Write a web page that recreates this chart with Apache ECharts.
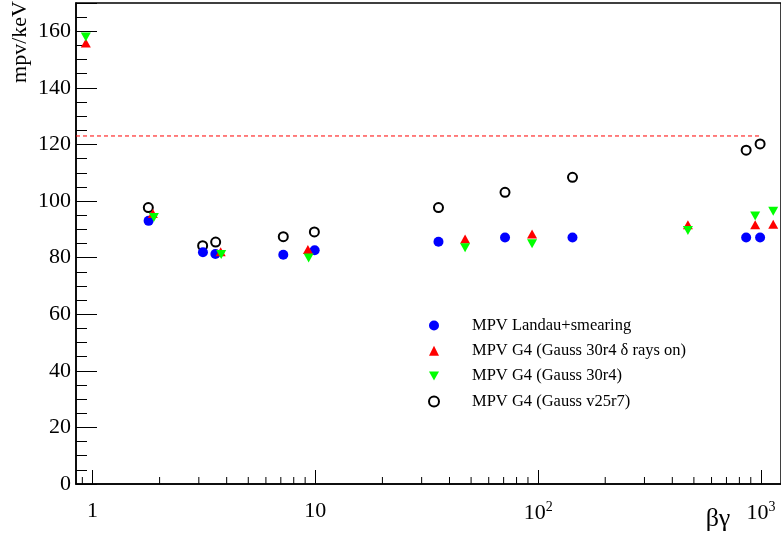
<!DOCTYPE html>
<html>
<head>
<meta charset="utf-8">
<script src="https://cdn.jsdelivr.net/npm/echarts@6/dist/echarts.min.js"></script>
<style>html,body{margin:0;padding:0;background:#fff}#c{width:781px;height:536px}</style>
</head>
<body>
<div id="c"></div>
<script>
// ---- data ----
const landauX = [1.785, 3.13, 3.56, 7.18, 9.93, 35.7, 71, 142.6, 858, 991];
const landauY = [93.0, 81.9, 81.3, 81.0, 82.6, 85.6, 87.1, 87.1, 87.1, 87.1];
const deltaX = [0.933, 1.865, 3.76, 9.26, 47, 93.9, 470, 942, 1135];
const deltaY = [155.9, 95.6, 82.1, 82.9, 86.6, 88.4, 91.6, 91.6, 91.8];
const g30X = [0.933, 1.885, 3.78, 9.33, 47, 93.9, 470, 942, 1135];
const g30Y = [158.0, 94.2, 81.1, 79.9, 83.5, 84.9, 89.6, 94.7, 96.4];
const v25X = [1.78, 3.12, 3.57, 7.18, 9.9, 35.7, 71, 142.6, 858, 991];
const v25Y = [97.7, 84.2, 85.5, 87.4, 89.1, 97.7, 103.1, 108.4, 118.0, 120.2];
const refLineY = 123;
const refLineX = [0.843, 1000];
const xMajorTicks = [1, 10, 100, 1000];
const xTickLabels = ['1', '10', '10{sup|2}', '10{sup|3}'];
const xMinorTicks = [0.9, 2, 3, 4, 5, 6, 7, 8, 9, 20, 30, 40, 50, 60, 70, 80, 90,
  200, 300, 400, 500, 600, 700, 800, 900];
const seriesNames = ['MPV Landau+smearing', 'MPV G4 (Gauss 30r4 \u03b4 rays on)', 'MPV G4 (Gauss 30r4)', 'MPV G4 (Gauss v25r7)'];

const zip = (xs, ys) => xs.map((x, i) => [x, ys[i]]);
const FONT = 'Liberation Serif';
const downTri = 'path://M0,0L10,0L5,9Z';

const chart = echarts.init(document.getElementById('c'), null, {renderer: 'canvas'});
chart.setOption({
  animation: false,
  backgroundColor: '#fff',
  textStyle: {fontFamily: FONT},
  grid: {left: 76, top: 3, right: 0, bottom: 52, show: true, borderColor: '#000', borderWidth: 1.5, backgroundColor: 'transparent'},
  xAxis: {
    type: 'log', logBase: 10, min: 0.843, max: 1230,
    axisLine: {show: true, onZero: false, lineStyle: {color: '#000', width: 1.5}},
    axisTick: {show: true, inside: true, length: 14, lineStyle: {color: '#000', width: 1}},
    minorTick: {show: false},
    splitLine: {show: false},
    axisLabel: {
      show: true, showMinLabel: false, showMaxLabel: false, margin: 16,
      color: '#000', fontFamily: FONT, fontSize: 22,
      formatter: function (v) {
        const e = Math.log10(v);
        const r = Math.round(e);
        if (Math.abs(e - r) > 1e-6) return '';
        const idx = xMajorTicks.indexOf(Math.pow(10, r));
        return idx >= 0 ? xTickLabels[idx] : '';
      },
      rich: {sup: {fontSize: 14, verticalAlign: 'top', padding: [0, 0, 12, 0], fontFamily: FONT, color: '#000'}}
    }
  },
  yAxis: {
    type: 'value', min: 0, max: 170, interval: 20,
    axisLine: {show: true, onZero: false, lineStyle: {color: '#000', width: 1.5}},
    axisTick: {show: true, inside: true, length: 21, lineStyle: {color: '#000', width: 1}},
    minorTick: {show: true, splitNumber: 4, length: 11, lineStyle: {color: '#000', width: 1}},
    splitLine: {show: false},
    axisLabel: {show: true, showMaxLabel: false, margin: 5, color: '#000', fontFamily: FONT, fontSize: 22}
  },
  legend: {
    orient: 'vertical', left: 423, top: 312, itemGap: 8.3,
    itemWidth: 10, itemHeight: 10,
    textStyle: {fontFamily: FONT, fontSize: 16.5, color: '#000', lineHeight: 16, padding: [0, 0, 0, 28]},
    data: [
      {name: seriesNames[0], icon: 'circle'},
      {name: seriesNames[1], icon: 'triangle'},
      {name: seriesNames[2], icon: downTri},
      {name: seriesNames[3], icon: 'emptyCircle'}
    ]
  },
  graphic: [
    {type: 'text', x: 20, y: 1, rotation: Math.PI / 2,
      style: {text: 'mpv/keV', font: '22px "Liberation Serif"', fill: '#000', align: 'right', verticalAlign: 'middle'}},
    {type: 'text', x: 718, y: 519,
      style: {text: '\u03b2\u03b3', font: '26px "Liberation Serif"', fill: '#000', align: 'center', verticalAlign: 'middle'}}
  ],
  series: [
    {
      type: 'line', name: 'ref', data: zip(refLineX, [refLineY, refLineY]),
      symbol: 'none', silent: true, z: 1,
      lineStyle: {color: '#ff0000', width: 1, type: [4, 3]}
    },
    {
      type: 'custom', name: 'minorTicks', silent: true, z: 5,
      data: xMinorTicks.map(v => [v, 0]),
      encode: {x: 0, y: 1},
      renderItem: function (params, api) {
        const p = api.coord([api.value(0), 0]);
        return {type: 'line', shape: {x1: p[0], y1: p[1], x2: p[0], y2: p[1] - 7},
          style: {stroke: '#000', lineWidth: 1}};
      }
    },
    {
      type: 'scatter', name: seriesNames[3], data: zip(v25X, v25Y),
      symbol: 'emptyCircle', symbolSize: 9,
      itemStyle: {color: '#000', borderColor: '#000', borderWidth: 1.5, opacity: 1}
    },
    {
      type: 'scatter', name: seriesNames[0], data: zip(landauX, landauY),
      symbol: 'circle', symbolSize: 10,
      itemStyle: {color: '#0000ff', opacity: 1}
    },
    {
      type: 'scatter', name: seriesNames[1], data: zip(deltaX, deltaY),
      symbol: 'triangle', symbolSize: [10, 9],
      itemStyle: {color: '#ff0000', opacity: 1}
    },
    {
      type: 'scatter', name: seriesNames[2], data: zip(g30X, g30Y),
      symbol: downTri, symbolSize: [10, 9],
      itemStyle: {color: '#00ff00', opacity: 1}
    }
  ]
});
</script>
</body>
</html>
